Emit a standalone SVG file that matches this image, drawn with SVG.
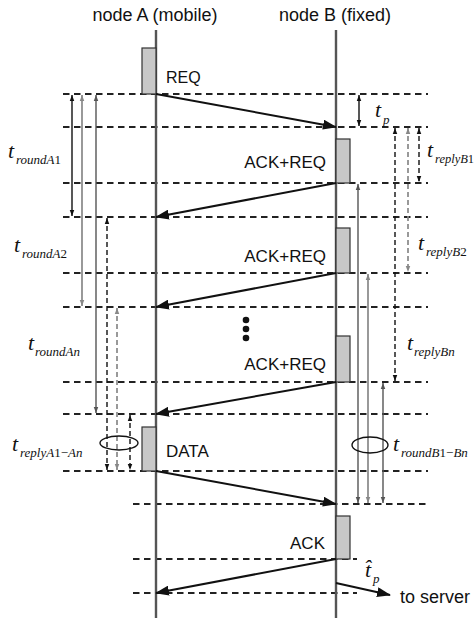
<svg xmlns="http://www.w3.org/2000/svg" width="475" height="618" viewBox="0 0 475 618">
<style>
.lbl{font-family:"Liberation Sans",Arial,sans-serif;fill:#111}
.m{font-family:"Liberation Serif","Times New Roman",serif;font-style:italic;fill:#111}
.up{font-style:normal}
.life{stroke:#555;stroke-width:2.4}
.grid{stroke:#222;stroke-width:1.8;stroke-dasharray:6.5 4.5}
.box{fill:#c8c8c8;stroke:#333;stroke-width:1.2}
.msg{stroke:#111;stroke-width:2;fill:none}
.vk{stroke:#111;stroke-width:1.4;fill:none}
.vg{stroke:#888;stroke-width:1.7;fill:none}
.vd{stroke:#555;stroke-width:1.4;fill:none}
.dash{stroke-dasharray:5 3}
</style>
<defs>
<marker id="ah" markerUnits="userSpaceOnUse" markerWidth="14" markerHeight="10" refX="13" refY="5" orient="auto"><path d="M0,0 L14,5 L0,10 z" fill="#111"/></marker>
<marker id="sk" markerUnits="userSpaceOnUse" markerWidth="6" markerHeight="9" refX="8" refY="3" orient="auto-start-reverse" viewBox="0 0 8 6"><path d="M0,0 L8,3 L0,6 z" fill="#111"/></marker>
<marker id="sg" markerUnits="userSpaceOnUse" markerWidth="6" markerHeight="9" refX="8" refY="3" orient="auto-start-reverse" viewBox="0 0 8 6"><path d="M0,0 L8,3 L0,6 z" fill="#888"/></marker>
<marker id="sd" markerUnits="userSpaceOnUse" markerWidth="6" markerHeight="9" refX="8" refY="3" orient="auto-start-reverse" viewBox="0 0 8 6"><path d="M0,0 L8,3 L0,6 z" fill="#555"/></marker>
</defs>
<rect width="475" height="618" fill="#fff"/>

<g id="grid">
<line class="grid" x1="63" y1="94" x2="428" y2="94"/>
<line class="grid" x1="63" y1="127" x2="428" y2="127"/>
<line class="grid" x1="63" y1="183" x2="428" y2="183"/>
<line class="grid" x1="63" y1="217" x2="428" y2="217"/>
<line class="grid" x1="63" y1="273" x2="428" y2="273"/>
<line class="grid" x1="63" y1="307" x2="428" y2="307"/>
<line class="grid" x1="63" y1="382" x2="428" y2="382"/>
<line class="grid" x1="63" y1="414" x2="428" y2="414"/>
<line class="grid" x1="63" y1="471" x2="428" y2="471"/>
<line class="grid" x1="133" y1="504" x2="428" y2="504"/>
<line class="grid" x1="133" y1="559" x2="357" y2="559"/>
<line class="grid" x1="133" y1="593" x2="357" y2="593"/>
</g>

<g id="nodeA">
<line class="life" x1="156" y1="30" x2="156" y2="618"/>
<text class="lbl" x="155" y="21" font-size="18" text-anchor="middle">node A (mobile)</text>
</g>
<g id="nodeB">
<line class="life" x1="336" y1="30" x2="336" y2="618"/>
<text class="lbl" x="335" y="21" font-size="18" text-anchor="middle">node B (fixed)</text>
</g>

<g id="req">
<rect class="box" x="142" y="48" width="14" height="46"/>
<text class="lbl" x="166" y="83" font-size="16">REQ</text>
</g>
<g id="ackreq1">
<rect class="box" x="336" y="139" width="14" height="44"/>
<text class="lbl" x="326" y="168" font-size="17" text-anchor="end">ACK+REQ</text>
</g>
<g id="ackreq2">
<rect class="box" x="336" y="228" width="14" height="45"/>
<text class="lbl" x="326" y="262" font-size="17" text-anchor="end">ACK+REQ</text>
</g>
<g id="dots">
<circle cx="246" cy="320" r="3.3" fill="#111"/>
<circle cx="246" cy="329" r="3.3" fill="#111"/>
<circle cx="246" cy="338" r="3.3" fill="#111"/>
</g>
<g id="ackreqn">
<rect class="box" x="336" y="336" width="14" height="46"/>
<text class="lbl" x="326" y="370" font-size="17" text-anchor="end">ACK+REQ</text>
</g>
<g id="data">
<rect class="box" x="142" y="427" width="14" height="44"/>
<text class="lbl" x="166" y="457" font-size="17">DATA</text>
</g>
<g id="ack">
<rect class="box" x="336" y="516" width="14" height="43"/>
<text class="lbl" x="325" y="549" font-size="17" text-anchor="end">ACK</text>
</g>
<g id="server">
<text class="lbl" x="400" y="603" font-size="18">to server</text>
</g>

<g id="connectors">
<line class="msg" x1="156" y1="94" x2="336" y2="127" marker-end="url(#ah)"/>
<line class="msg" x1="336" y1="183" x2="156" y2="217" marker-end="url(#ah)"/>
<line class="msg" x1="336" y1="273" x2="156" y2="307" marker-end="url(#ah)"/>
<line class="msg" x1="336" y1="382" x2="156" y2="414" marker-end="url(#ah)"/>
<line class="msg" x1="156" y1="471" x2="336" y2="504" marker-end="url(#ah)"/>
<line class="msg" x1="336" y1="559" x2="156" y2="593" marker-end="url(#ah)"/>
<line class="msg" x1="336" y1="583" x2="390" y2="595" marker-end="url(#ah)"/>

<line class="vk" x1="72" y1="95" x2="72" y2="216" marker-start="url(#sk)" marker-end="url(#sk)"/>
<line class="vg" x1="82" y1="95" x2="82" y2="306" marker-start="url(#sg)" marker-end="url(#sg)"/>
<line class="vd" x1="96" y1="95" x2="96" y2="413" marker-start="url(#sd)" marker-end="url(#sd)"/>
<line class="vk dash" x1="107" y1="218" x2="107" y2="470" marker-start="url(#sk)" marker-end="url(#sk)"/>
<line class="vg dash" x1="117" y1="308" x2="117" y2="470" marker-start="url(#sg)" marker-end="url(#sg)"/>
<line class="vk dash" x1="130" y1="415" x2="130" y2="470" marker-start="url(#sk)" marker-end="url(#sk)"/>
<ellipse cx="119" cy="443" rx="19" ry="7" fill="none" stroke="#111" stroke-width="1.4"/>

<line class="vk" x1="359" y1="95" x2="359" y2="126" marker-start="url(#sk)" marker-end="url(#sk)"/>
<line class="vk dash" x1="395" y1="128" x2="395" y2="381" marker-start="url(#sk)" marker-end="url(#sk)"/>
<line class="vg dash" x1="408" y1="128" x2="408" y2="272" marker-start="url(#sg)" marker-end="url(#sg)"/>
<line class="vk dash" x1="419" y1="128" x2="419" y2="182" marker-start="url(#sk)" marker-end="url(#sk)"/>
<line class="vd" x1="358" y1="184" x2="358" y2="503" marker-start="url(#sd)" marker-end="url(#sd)"/>
<line class="vg" x1="368" y1="274" x2="368" y2="503" marker-start="url(#sg)" marker-end="url(#sg)"/>
<line class="vd" x1="383" y1="383" x2="383" y2="503" marker-start="url(#sd)" marker-end="url(#sd)"/>
<ellipse cx="370" cy="445" rx="18" ry="8" fill="none" stroke="#111" stroke-width="1.4"/>
</g>

<g id="labels">
<text class="m" x="375" y="117" font-size="22">t</text><text class="m" x="383" y="124" font-size="13">p</text>
<text class="m" x="8" y="158" font-size="22">t</text><text class="m" x="16" y="164" font-size="13">roundA<tspan class="up">1</tspan></text>
<text class="m" x="14" y="252" font-size="22">t</text><text class="m" x="22" y="258" font-size="13">roundA<tspan class="up">2</tspan></text>
<text class="m" x="28" y="350" font-size="22">t</text><text class="m" x="35" y="356" font-size="13">roundAn</text>
<text class="m" x="12" y="451" font-size="22">t</text><text class="m" x="20" y="457" font-size="13">replyA<tspan class="up">1−</tspan>An</text>
<text class="m" x="427" y="157" font-size="22">t</text><text class="m" x="435" y="163" font-size="12.5">replyB<tspan class="up">1</tspan></text>
<text class="m" x="418" y="250" font-size="22">t</text><text class="m" x="426" y="256" font-size="13">replyB<tspan class="up">2</tspan></text>
<text class="m" x="407" y="350" font-size="22">t</text><text class="m" x="414" y="356" font-size="13">replyBn</text>
<text class="m" x="393" y="451" font-size="22">t</text><text class="m" x="401" y="457" font-size="13">roundB<tspan class="up">1−</tspan>Bn</text>
<text class="m" x="365" y="577" font-size="22">t&#x302;</text><text class="m" x="373" y="583" font-size="13">p</text>
</g>
</svg>
